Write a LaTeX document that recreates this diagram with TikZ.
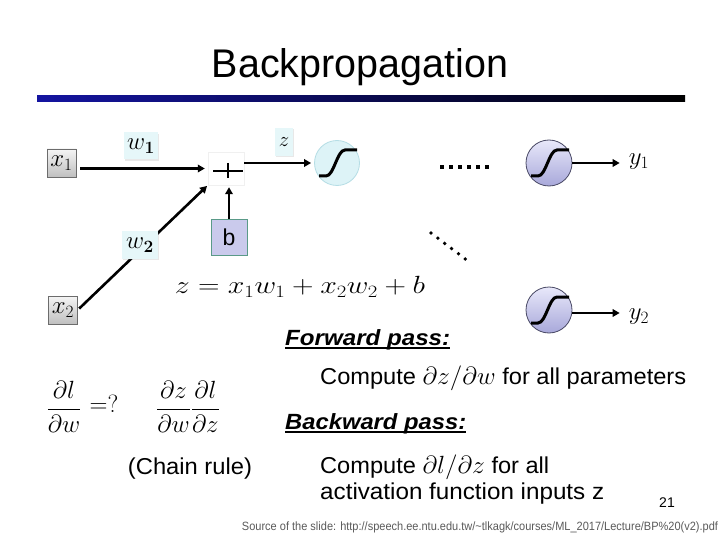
\documentclass[tikz,border=0pt]{standalone}
\usepackage[no-math]{fontspec}
\setmainfont{Liberation Sans}
\usepackage{amsmath}
\usepackage{graphicx}
\usetikzlibrary{arrows.meta,shadows,calc}
\definecolor{barblue}{HTML}{1414A0}
\definecolor{cyfill}{HTML}{DDF3F7}
\definecolor{cyline}{HTML}{B5DDE5}
\definecolor{lavtop}{HTML}{E8E8FA}
\definecolor{lavbot}{HTML}{A8A8DA}
\definecolor{lavline}{HTML}{4A4A66}
\definecolor{wfill}{HTML}{E6F7F9}
\definecolor{bfill}{HTML}{CACAEC}
\definecolor{bline}{HTML}{5A9A88}
\definecolor{srcgray}{HTML}{5A5A5A}
\newcommand{\myfs}[1]{\fontsize{#1}{#1}\selectfont}
\begin{document}
\begin{tikzpicture}[x=1pt,y=-1pt,
  arr/.style={line width=2.6pt,-{Triangle[length=7pt,width=7.5pt]}},
  inbox/.style={draw=gray!85!black, top color=gray!8, bottom color=gray!50,
    minimum width=29pt, minimum height=28pt, inner sep=0pt, font=\myfs{23}},
  wlab/.style={fill=wfill, inner sep=0pt, minimum height=27pt, font=\myfs{24},
    drop shadow={opacity=0.18,shadow xshift=1.2pt,shadow yshift=-1.2pt}},
  plusbox/.style={draw=gray!12, fill=white, minimum width=36pt, minimum height=33pt, inner sep=0pt},
  bbox/.style={draw=bline, fill=bfill, line width=0.8pt, minimum size=36pt, inner sep=0pt, font=\myfs{23}},
  neuronA/.style={circle, minimum size=45pt, inner sep=0pt, fill=cyfill, draw=cyline, line width=0.8pt},
  neuronB/.style={circle, minimum size=46pt, inner sep=0pt, draw=lavline, line width=0.8pt,
    top color=lavtop, bottom color=lavbot},
  outlab/.style={inner sep=0pt, font=\myfs{26}},
  txt/.style={inner sep=0pt, anchor=west},
  uline/.style={line width=1.5pt},
  sigc/.pic={\draw[line width=3pt] (-18,13) -- (-11,13) .. controls (-3,13) and (0,-13) .. (8,-13) -- (20,-13);}
]
\useasboundingbox (0,0) rectangle (720,540);
\fill[white] (0,0) rectangle (720,540);

% title and bar
\node[inner sep=0pt] (title) at (360,67) {\resizebox{296pt}{\height}{\myfs{40}Backpropagation}};
\shade[left color=barblue, right color=black] (37,96) rectangle (685,102);

% network
\node[inbox] (x1) at (61.5,163) {$x_1$};
\node[inbox] (x2) at (63,310) {$x_2$};
\node[plusbox] (plus) at (226,168.5) {};
\draw[line width=1.8pt] (213,171) -- (243,171) (228,163) -- (228,178);
\node[bbox] (b) at (229,237) {b};
\node[neuronA] (s1) at (337,163) {};
\pic at (s1) {sigc};
\node[neuronB] (o1) at (549,163) {};
\pic at (o1) {sigc};
\node[neuronB] (o2) at (549,310) {};
\pic at (o2) {sigc};
\node[outlab] (y1) at (639,162) {$y_1$};
\node[outlab] (y2) at (639,317) {$y_2$};

\draw[arr, shorten <=4pt, shorten >=3pt] (x1.east |- plus.west) -- (plus.west);
\draw[arr, shorten <=2pt, shorten >=1pt] (x2.east) -- (plus.south west);
\draw[arr, shorten >=2pt] (b.north) -- (b.north |- plus.south);
\draw[arr, shorten >=3pt] (plus.east |- s1) -- (s1.west);
\draw[arr, shorten >=9pt] (o1.east) -- (o1.east -| y1.west);
\draw[arr, shorten >=9pt] ([yshift=-3pt]o2.east) -- ([yshift=-3pt]o2.east -| y2.west);

\node[wlab, minimum width=34pt] (w1) at (141,146) {$w_{\mathbf{1}}$};
\node[wlab, minimum width=36pt] (w2) at (140,245) {$w_{\mathbf{2}}$};
\node[wlab, minimum width=18pt, minimum height=28pt, font=\myfs{22}] (zl) at (284,142) {$z$};

% dots
\coordinate (d1a) at (440,167);
\coordinate (d1b) at (493,167);
\draw[line width=4pt, dash pattern=on 4pt off 5pt] (d1a) -- (d1b);
\coordinate (d2a) at (431,233);
\coordinate (d2b) at (468,261);
\draw[line width=3.8pt, line cap=round, dash pattern=on 0pt off 8.6pt] (d2a) -- (d2b);

% equation
\node[inner sep=0pt] (eq) at (300,287) {\resizebox{250pt}{\height}{\myfs{25}$z = x_1w_1 + x_2w_2 + b$}};

% text
\node[txt] (fwd) at (285,340) {\resizebox{165pt}{\height}{\myfs{22}\bfseries\itshape Forward pass:}};
\draw[uline] ([yshift=-2.3pt]fwd.base west) -- ([yshift=-2.3pt]fwd.base east);
\node[txt] (c1) at (320,378) {\resizebox{366pt}{\height}{\myfs{23}Compute $\partial z/\partial w$ for all parameters}};
\node[txt] (bwd) at (285,424) {\resizebox{181pt}{\height}{\myfs{22}\bfseries\itshape Backward pass:}};
\draw[uline] ([yshift=-2.3pt]bwd.base west) -- ([yshift=-2.3pt]bwd.base east);
\node[txt] (c2) at (320,467) {\resizebox{229pt}{\height}{\myfs{23}Compute $\partial l/\partial z$ for all}};
\node[txt] (c3) at (320,494) {\resizebox{284pt}{\height}{\myfs{23}activation function inputs z}};

\node[inner sep=0pt] (f1) at (64,407) {\myfs{28}$\displaystyle\frac{\partial l}{\partial w}$};
\node[inner sep=0pt] (q) at (104,404) {\myfs{25}${=}{\mathrm{?}}$};
\node[inner sep=0pt] (f2) at (188,407) {\myfs{27}$\displaystyle\frac{\partial z}{\partial w}\frac{\partial l}{\partial z}$};
\node[inner sep=0pt] (chain) at (190,469) {\resizebox{124pt}{\height}{\myfs{23}(Chain rule)}};

\node[inner sep=0pt] (pg) at (667,503) {\myfs{14}21};
\node[inner sep=0pt, text=srcgray] (src) at (480,527) {\resizebox{476pt}{\height}{\myfs{12}Source of the slide: http://speech.ee.ntu.edu.tw/\textasciitilde tlkagk/courses/ML\_2017/Lecture/BP\%20(v2).pdf}};
\end{tikzpicture}
\end{document}
